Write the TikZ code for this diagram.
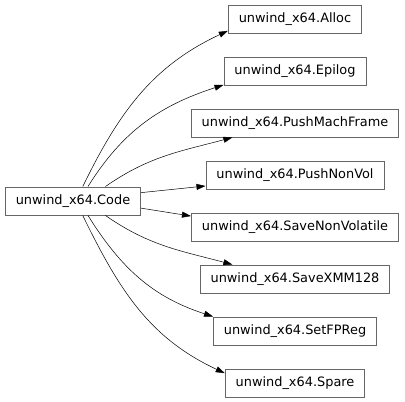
\documentclass[tikz,border=0pt]{standalone}
\usepackage{fontspec}
\setmainfont{DejaVu Sans}
\usetikzlibrary{arrows.meta}

\begin{document}
\begin{tikzpicture}[x=1pt, y=1pt,
  box/.style = {draw=black!60, line width=0.9pt, rectangle, minimum height=28pt, inner xsep=10.5pt, font=\fontsize{12.9}{15}\selectfont},
  edge/.style = {line width=0.5pt, -{Triangle[length=9pt, width=6pt]}}]
\useasboundingbox (0,0) rectangle (405,402);
%% class nodes
\node[box] (code) at (73, 201) {unwind\_x64.Code};
\node[box] (alloc) at (295, 383) {unwind\_x64.Alloc};
\node[box] (epilog) at (295, 331) {unwind\_x64.Epilog};
\node[box] (pmf) at (295, 279) {unwind\_x64.PushMachFrame};
\node[box] (pnv) at (295, 227) {unwind\_x64.PushNonVol};
\node[box] (snv) at (295, 175) {unwind\_x64.SaveNonVolatile};
\node[box] (sxmm) at (295, 123) {unwind\_x64.SaveXMM128};
\node[box] (sfp) at (295, 71) {unwind\_x64.SetFPReg};
\node[box] (spare) at (295, 19) {unwind\_x64.Spare};

%%% edges
\draw[edge] (code.56) to[out=64, in=205] (alloc.190);
\draw[edge] (code.44) to[out=58, in=198] (epilog.191);
\draw[edge] (code.24) to[out=35, in=195] (pmf.193);
\draw[edge] (code.7) -- (pnv.187);
\draw[edge] (code.-6) -- (snv.174);
\draw[edge] (code.-24) to[out=-35, in=165] (sxmm.167);
\draw[edge] (code.-44) to[out=-58, in=162] (sfp.170);
\draw[edge] (code.-56) to[out=-64, in=155] (spare.172);

\end{tikzpicture}
\end{document}
